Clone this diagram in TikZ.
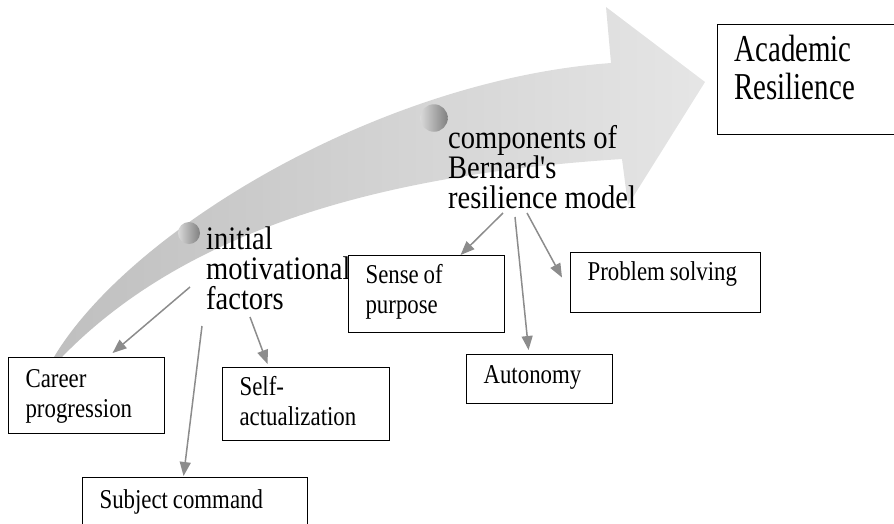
\documentclass[tikz,border=0pt]{standalone}
\usepackage{fontspec}
\newfontfamily\labelfont{Liberation Serif}[FakeStretch=0.87]
\newfontfamily\boxfont{Liberation Serif}[FakeStretch=0.84,WordSpace=0.84]
\newfontfamily\goalfont{Liberation Serif}[FakeStretch=0.76]
\usetikzlibrary{arrows.meta}
\definecolor{linkgray}{HTML}{8C8C8C}

\begin{document}
\begin{tikzpicture}[x=1pt,y=-1pt]

	\tikzset{BoxStyle/.style = {draw, fill=white, line width=1.1pt,
			anchor=north west, inner xsep=17pt, inner ysep=0pt, align=flush left,
			font=\boxfont\fontsize{27.2}{30}\selectfont}}
	\tikzset{LabelStyle/.style = {anchor=north west, inner sep=0pt, align=left,
			font=\labelfont\fontsize{32.8}{30}\selectfont}}
	\tikzset{BallStyle/.style = {circle, inner sep=0pt,
			left color=black!15, right color=black!50}}
	\tikzset{LinkStyle/.style = {draw=linkgray, line width=1.5pt,
			-{Triangle[length=14pt,width=11pt]}}}

	\useasboundingbox (0,0) rectangle (894,523);

	% the big curved arrow
	\shade[left color=black!25, right color=black!10]
		(54,357) .. controls (130,230) and (380,80) .. (611,63)
		-- (606,7) -- (705,82) -- (628,205) -- (622,159)
		.. controls (420,172) and (200,215) .. (62,357) -- cycle;

	\node[BallStyle, minimum size=22pt](ball1) at (189,233) {};
	\node[BallStyle, minimum size=27.5pt](ball2) at (434,118) {};

	\node[LabelStyle](imf) at (206,227) {initial\\motivational\\factors};
	\node[LabelStyle](cbr) at (448,125) {components of\\Bernard's\\resilience model};

	\node[BoxStyle, text width=122pt, text height=30pt, text depth=46pt](career) at (8,357) {Career\\progression};
	\node[BoxStyle, text width=133pt, text height=28pt, text depth=45pt](selfact) at (222,367) {Self-\\actualization};
	\node[BoxStyle, text width=191pt, text height=31pt, text depth=20pt](subject) at (82,477) {Subject command};
	\node[BoxStyle, text width=122pt, text height=28pt, text depth=49pt](sense) at (348,255) {Sense of\\purpose};
	\node[BoxStyle, text width=112pt, text height=29pt, text depth=20pt](autonomy) at (466,354) {Autonomy};
	\node[BoxStyle, text width=156pt, text height=28pt, text depth=32pt](problem) at (570,252) {Problem solving};
	\node[BoxStyle, text width=151pt, text height=37pt, text depth=73pt,
		font=\goalfont\fontsize{38}{38}\selectfont](academic) at (717,24) {Academic\\Resilience};

	\coordinate (imf-a) at (190,287);
	\coordinate (imf-b) at (202,326);
	\coordinate (imf-c) at (250,317);
	\coordinate (cbr-a) at (503,213);
	\coordinate (cbr-b) at (515,217);
	\coordinate (cbr-c) at (527,213);

	\draw[LinkStyle](imf-a) -- ([xshift=26pt,yshift=4pt]career.north);
	\draw[LinkStyle](imf-b) -- ([xshift=-11.5pt,yshift=1pt]subject.north);
	\draw[LinkStyle](imf-c) -- ([xshift=-38.5pt,yshift=3pt]selfact.north);
	\draw[LinkStyle](cbr-a) -- ([xshift=34pt]sense.north);
	\draw[LinkStyle](cbr-b) -- ([xshift=-11pt,yshift=4pt]autonomy.north);
	\draw[LinkStyle](cbr-c) -- ([xshift=-8pt,yshift=5pt]problem.west);
\end{tikzpicture}
\end{document}
